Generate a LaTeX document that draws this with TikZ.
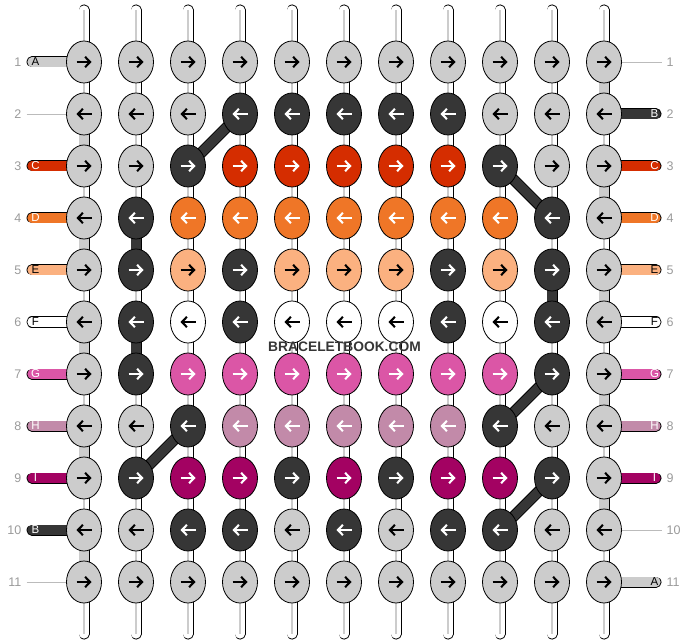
\documentclass[tikz,border=0pt]{standalone}
\usepackage{fontspec}
\setmainfont{Liberation Sans}
\usetikzlibrary{shapes.geometric,arrows.meta}
\pgfdeclarelayer{bg}
\pgfsetlayers{bg,main}
% strand colours (fill) and text/arrow colours on them
\definecolor{cA}{HTML}{CCCCCC}\definecolor{tA}{HTML}{000000}
\definecolor{cB}{HTML}{363636}\definecolor{tB}{HTML}{FFFFFF}
\definecolor{cC}{HTML}{D52D00}\definecolor{tC}{HTML}{FFFFFF}
\definecolor{cD}{HTML}{EF7627}\definecolor{tD}{HTML}{FFFFFF}
\definecolor{cE}{HTML}{FBB180}\definecolor{tE}{HTML}{000000}
\definecolor{cF}{HTML}{FFFFFF}\definecolor{tF}{HTML}{000000}
\definecolor{cG}{HTML}{DB56A6}\definecolor{tG}{HTML}{FFFFFF}
\definecolor{cH}{HTML}{C28AA9}\definecolor{tH}{HTML}{FFFFFF}
\definecolor{cI}{HTML}{A30262}\definecolor{tI}{HTML}{FFFFFF}
\definecolor{numgray}{HTML}{9A9A9A}
\definecolor{guidegray}{HTML}{BBBBBB}

\begin{document}
\begin{tikzpicture}[x=1pt,y=-1pt]
\tikzstyle{knot} = [ellipse,draw=black,line width=0.8pt,minimum width=35pt,minimum height=42pt,inner sep=0pt]
\tikzstyle{arr} = [line width=2.1pt,-{Straight Barb[length=5pt,width=10.5pt]}]
\tikzstyle{band} = [draw=black,line width=0.9pt,double distance=9.2pt]
\tikzstyle{warp} = [band,double=white]
\tikzstyle{seam} = [draw=cA,line width=1.2pt]
\tikzstyle{guide} = [draw=guidegray,line width=0.8pt]
\tikzstyle{num} = [text=numgray,inner sep=0pt,font=\fontsize{12.5}{14}\selectfont]
\tikzstyle{tag} = [inner sep=0pt,font=\fontsize{11.5}{13}\selectfont]
\useasboundingbox (0,0) rectangle (688,644);

% knots, row by row
\foreach \r/\d/\row in {
  1/1/{A,A,A,A,A,A,A,A,A,A,A},
  2/-1/{A,A,A,B,B,B,B,B,A,A,A},
  3/1/{A,A,B,C,C,C,C,C,B,A,A},
  4/-1/{A,B,D,D,D,D,D,D,D,B,A},
  5/1/{A,B,E,B,E,E,E,B,E,B,A},
  6/-1/{A,B,F,B,F,F,F,B,F,B,A},
  7/1/{A,B,G,G,G,G,G,G,G,B,A},
  8/-1/{A,A,B,H,H,H,H,H,B,A,A},
  9/1/{A,B,I,I,B,I,B,I,I,B,A},
  10/-1/{A,A,B,B,A,B,A,B,B,A,A},
  11/1/{A,A,A,A,A,A,A,A,A,A,A}} {
  \foreach \s [count=\c] in \row {
    \node[knot,fill=c\s] (k-\r-\c) at ({32+52*\c},{10+52*\r}) {};
    \draw[arr,draw=t\s] ([xshift=-7.5*\d]k-\r-\c.center) -- ([xshift=7.5*\d]k-\r-\c.center);
  }
  \node[num,anchor=east] (nl-\r) at (21.5,{10+52*\r}) {\r};
  \node[num,anchor=west] (nr-\r) at (666.5,{10+52*\r}) {\r};
}

\begin{pgfonlayer}{bg}
% rows
\foreach \r in {1,...,11}
  \foreach \c [evaluate=\c as \n using int(\c+1)] in {1,...,10}
    \draw[band,double=cA] (k-\r-\c.center) -- (k-\r-\n.center);
% warp strings
\foreach \c in {1,...,11} {
  \coordinate (top-\c) at ({32+52*\c},10);
  \coordinate (bot-\c) at ({32+52*\c},634);
  \draw[warp,line cap=round] (top-\c) -- (k-1-\c.center);
  \draw[warp,line cap=round] (k-11-\c.center) -- (bot-\c);
  \draw[seam] (top-\c) -- (k-1-\c.center);
  \draw[seam] (k-11-\c.center) -- (bot-\c);
  \foreach \r [evaluate=\r as \n using int(\r+1)] in {1,...,10} {
    \draw[warp] (k-\r-\c.center) -- (k-\n-\c.center);
    \draw[seam] (k-\r-\c.center) -- (k-\n-\c.center);
  }
}
% background strand turning at the edges
\foreach \r [evaluate=\r as \n using int(\r+1)] in {2,4,6,8,10}
  \draw[band,double=cA] (k-\r-1.center) -- (k-\n-1.center);
\foreach \r [evaluate=\r as \n using int(\r+1)] in {1,3,5,7,9}
  \draw[band,double=cA] (k-\r-11.center) -- (k-\n-11.center);
% dark strand
\draw[band,double=cB] (k-2-4.center) -- (k-3-3.center);
\draw[band,double=cB] (k-3-9.center) -- (k-4-10.center);
\draw[band,double=cB] (k-4-2.center) -- (k-5-2.center);
\draw[band,double=cB] (k-6-2.center) -- (k-7-2.center);
\draw[band,double=cB] (k-5-10.center) -- (k-6-10.center);
\draw[band,double=cB] (k-7-10.center) -- (k-8-9.center);
\draw[band,double=cB] (k-8-3.center) -- (k-9-2.center);
\draw[band,double=cB] (k-9-10.center) -- (k-10-9.center);
% loose ends on the left and right
\foreach \r/\s in {1/A,3/C,4/D,5/E,6/F,7/G,8/H,9/I,10/B} {
  \coordinate (w-\r) at (32,{10+52*\r});
  \draw[band,double=c\s,line cap=round] (w-\r) -- (k-\r-1.center);
}
\foreach \r/\s in {2/B,3/C,4/D,5/E,6/F,7/G,8/H,9/I,11/A} {
  \coordinate (e-\r) at (656,{10+52*\r});
  \draw[band,double=c\s,line cap=round] (k-\r-11.center) -- (e-\r);
}
\end{pgfonlayer}

\foreach \r/\s in {1/A,3/C,4/D,5/E,6/F,7/G,8/H,9/I,10/B}
  \node[tag,text=t\s] (lw-\r) at ([xshift=3.5]w-\r) {\s};
\foreach \r/\s in {2/B,3/C,4/D,5/E,6/F,7/G,8/H,9/I,11/A}
  \node[tag,text=t\s] (le-\r) at ([xshift=-1.5]e-\r) {\s};
% rows without a loose end
\foreach \r in {2,11} {
  \coordinate (g-\r) at (26.5,{10+52*\r});
  \draw[guide] (g-\r) -- (k-\r-1.west);
}
\foreach \r in {1,10} {
  \coordinate (h-\r) at (661.5,{10+52*\r});
  \draw[guide] (k-\r-11.east) -- (h-\r);
}

\node[font=\bfseries\fontsize{13.8}{15}\selectfont,text=cB,inner sep=0pt] (mark) at (344.5,347) {BRACELETBOOK.COM};
\end{tikzpicture}
\end{document}
